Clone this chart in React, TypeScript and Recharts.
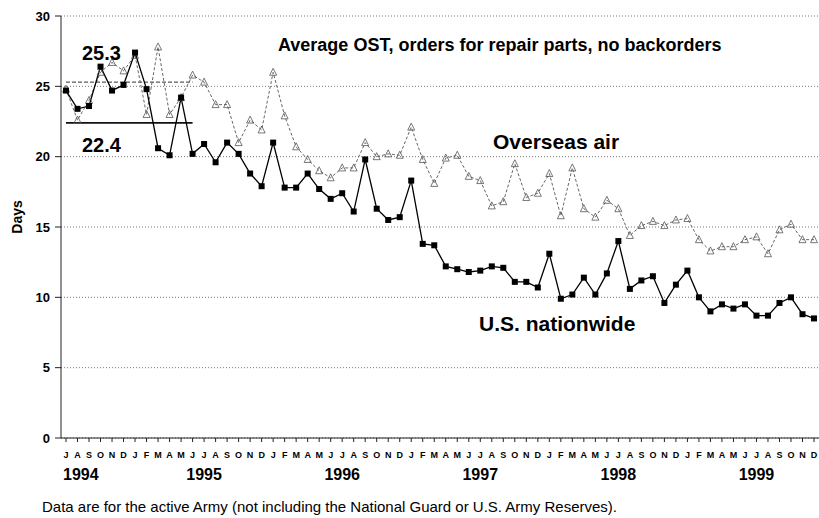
import { LineChart, Line, XAxis, YAxis, CartesianGrid, ReferenceLine } from "recharts";

const PERIODS = [
  "1994-07", "1994-08", "1994-09", "1994-10", "1994-11", "1994-12",
  "1995-01", "1995-02", "1995-03", "1995-04", "1995-05", "1995-06",
  "1995-07", "1995-08", "1995-09", "1995-10", "1995-11", "1995-12",
  "1996-01", "1996-02", "1996-03", "1996-04", "1996-05", "1996-06",
  "1996-07", "1996-08", "1996-09", "1996-10", "1996-11", "1996-12",
  "1997-01", "1997-02", "1997-03", "1997-04", "1997-05", "1997-06",
  "1997-07", "1997-08", "1997-09", "1997-10", "1997-11", "1997-12",
  "1998-01", "1998-02", "1998-03", "1998-04", "1998-05", "1998-06",
  "1998-07", "1998-08", "1998-09", "1998-10", "1998-11", "1998-12",
  "1999-01", "1999-02", "1999-03", "1999-04", "1999-05", "1999-06",
  "1999-07", "1999-08", "1999-09", "1999-10", "1999-11", "1999-12",
];

const MONTH_LETTERS = ["J", "F", "M", "A", "M", "J", "J", "A", "S", "O", "N", "D"];

const YEAR_TICKS = ["1994-07", "1995-07", "1996-07", "1997-07", "1998-07", "1999-07"];

const US_NATIONWIDE = [
  24.7, 23.4, 23.6, 26.4, 24.7, 25.1, 27.4, 24.8, 20.6, 20.1,
  24.2, 20.2, 20.9, 19.6, 21.0, 20.2, 18.8, 17.9, 21.0, 17.8,
  17.8, 18.8, 17.7, 17.0, 17.4, 16.1, 19.8, 16.3, 15.5, 15.7,
  18.3, 13.8, 13.7, 12.2, 12.0, 11.8, 11.9, 12.2, 12.1, 11.1,
  11.1, 10.7, 13.1, 9.9, 10.2, 11.4, 10.2, 11.7, 14.0, 10.6,
  11.2, 11.5, 9.6, 10.9, 11.9, 10.0, 9.0, 9.5, 9.2, 9.5,
  8.7, 8.7, 9.6, 10.0, 8.8, 8.5,
];

const OVERSEAS_AIR = [
  24.8, 22.6, 24.0, 26.0, 26.7, 26.1, 27.2, 23.0, 27.8, 23.0,
  24.2, 25.8, 25.3, 23.7, 23.7, 21.0, 22.6, 21.9, 26.0, 22.9,
  20.7, 19.8, 19.0, 18.5, 19.2, 19.2, 21.0, 20.0, 20.2, 20.1,
  22.1, 19.8, 18.1, 19.9, 20.1, 18.6, 18.3, 16.5, 16.8, 19.5,
  17.1, 17.4, 18.8, 15.8, 19.2, 16.3, 15.7, 16.9, 16.3, 14.4,
  15.1, 15.4, 15.1, 15.5, 15.6, 14.1, 13.3, 13.6, 13.6, 14.1,
  14.3, 13.1, 14.8, 15.2, 14.1, 14.1,
];

// first-year averages marked on the left
const AVG_HIGH = 25.3;
const AVG_LOW = 22.4;
const AVG_FROM = "1994-07";
const AVG_TO = "1995-06";

const data = PERIODS.map((p, i) => ({ period: p, us: US_NATIONWIDE[i], air: OVERSEAS_AIR[i] }));

const FONT = "'Liberation Sans', Arial, Helvetica, sans-serif";

function SquareDot(props: any) {
  const { cx, cy } = props;
  if (cx == null || cy == null) return null;
  return <rect x={cx - 3} y={cy - 3} width={6} height={6} fill="#000" />;
}

function TriangleDot(props: any) {
  const { cx, cy } = props;
  if (cx == null || cy == null) return null;
  return (
    <path
      d={`M${cx},${cy - 4} L${cx + 3.5},${cy + 3} L${cx - 3.5},${cy + 3} Z`}
      fill="none"
      stroke="#555"
      strokeWidth={0.8}
    />
  );
}

function YearTick(props: any) {
  const { x, y, payload, index } = props;
  const year = String(payload.value).slice(0, 4);
  return (
    <text
      x={index === 0 ? x - 3 : x}
      y={y}
      dy="0.71em"
      textAnchor={index === 0 ? "start" : "middle"}
      fontSize={16}
      fontWeight="bold"
      fontFamily={FONT}
      fill="#000"
    >
      {year}
    </text>
  );
}

export default function App() {
  return (
    <div style={{ position: "absolute", left: 0, top: 0, width: 819, height: 518, background: "#fff" }}>
      <LineChart width={819} height={518} data={data} margin={{ top: 16, right: 0, bottom: 28, left: 0 }}>
        <CartesianGrid vertical={false} stroke="#777" strokeDasharray="1 2" />
        <XAxis
          dataKey="period"
          interval={0}
          padding={{ left: 5, right: 5 }}
          tickFormatter={(v: string) => MONTH_LETTERS[Number(v.slice(5)) - 1]}
          tick={{ fontSize: 9, fontWeight: "bold", fill: "#000", fontFamily: FONT }}
          tickSize={4}
          tickMargin={10}
          height={30}
          stroke="#222"
        />
        <XAxis
          xAxisId="yr"
          dataKey="period"
          interval={0}
          ticks={YEAR_TICKS}
          padding={{ left: 5, right: 5 }}
          tick={<YearTick />}
          axisLine={false}
          tickLine={false}
          tickSize={0}
          tickMargin={1}
          height={22}
        />
        <YAxis
          domain={[0, 30]}
          ticks={[0, 5, 10, 15, 20, 25, 30]}
          width={61}
          tickSize={6}
          tickMargin={5}
          tick={{ fontSize: 13, fontWeight: "bold", fill: "#000", fontFamily: FONT }}
          stroke="#222"
        />
        <ReferenceLine
          segment={[{ x: AVG_FROM, y: AVG_HIGH }, { x: AVG_TO, y: AVG_HIGH }]}
          stroke="#333"
          strokeDasharray="4 2"
          strokeWidth={1}
        />
        <ReferenceLine
          segment={[{ x: AVG_FROM, y: AVG_LOW }, { x: AVG_TO, y: AVG_LOW }]}
          stroke="#111"
          strokeWidth={1.6}
        />
        <Line
          dataKey="air"
          name="Overseas air"
          stroke="#555"
          strokeWidth={0.9}
          strokeDasharray="3 2"
          dot={<TriangleDot />}
          isAnimationActive={false}
        />
        <Line
          dataKey="us"
          name="U.S. nationwide"
          stroke="#000"
          strokeWidth={1.3}
          dot={<SquareDot />}
          isAnimationActive={false}
        />
      </LineChart>
      <svg
        width={819}
        height={518}
        style={{ position: "absolute", left: 0, top: 0, pointerEvents: "none" }}
        fontFamily={FONT}
      >
        <text x={278} y={51} fontSize={18} fontWeight="bold">
          Average OST, orders for repair parts, no backorders
        </text>
        <text x={82} y={60} fontSize={20} fontWeight="bold">25.3</text>
        <text x={82} y={152} fontSize={20} fontWeight="bold">22.4</text>
        <text x={493} y={149} fontSize={21} fontWeight="bold">Overseas air</text>
        <text x={479} y={331} fontSize={21} fontWeight="bold">U.S. nationwide</text>
        <text x={22} y={217} fontSize={14} fontWeight="bold" textAnchor="middle" transform="rotate(-90 22 217)">
          Days
        </text>
        <text x={42} y={512} fontSize={15} textLength={575} lengthAdjust="spacingAndGlyphs">
          Data are for the active Army (not including the National Guard or U.S. Army Reserves).
        </text>
      </svg>
    </div>
  );
}
